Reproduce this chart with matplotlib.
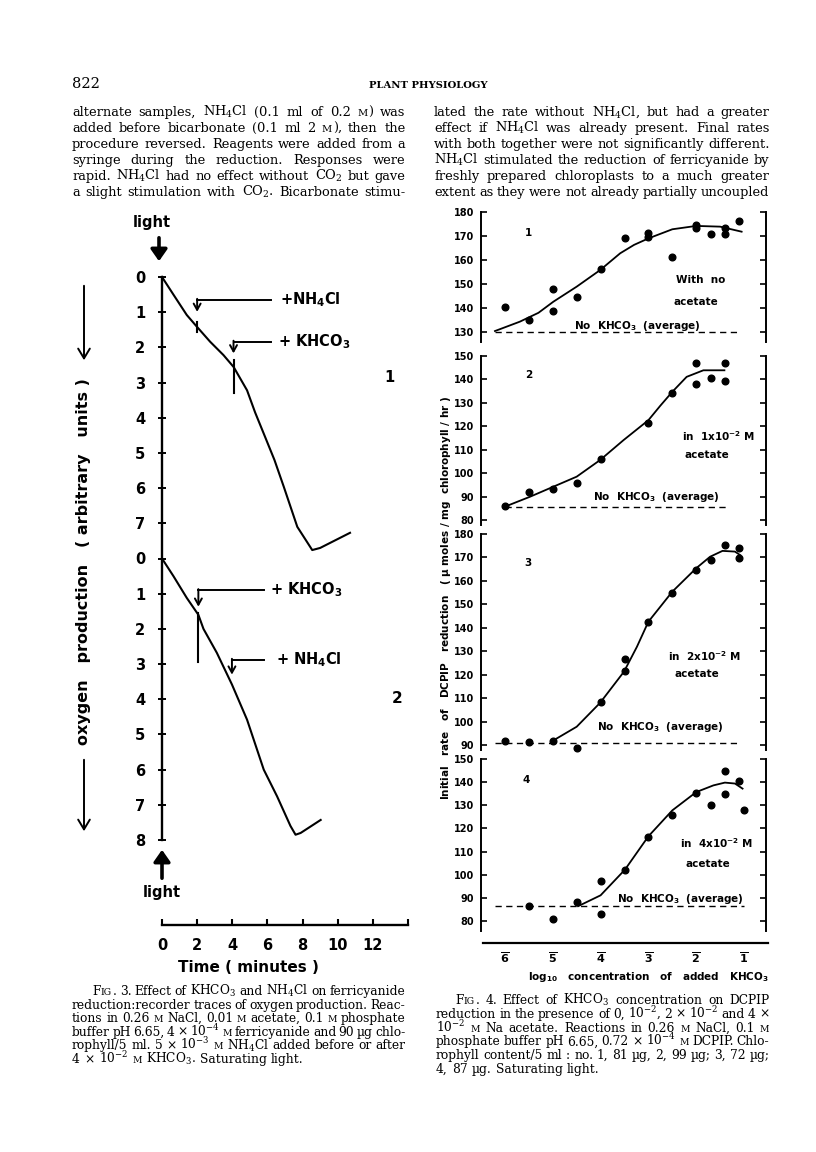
import matplotlib
matplotlib.use("Agg")
import matplotlib.pyplot as plt
from matplotlib.patches import FancyArrowPatch

plt.rcParams['mathtext.fontset'] = 'custom'
plt.rcParams['mathtext.rm'] = 'DejaVu Serif'
plt.rcParams['mathtext.it'] = 'DejaVu Serif:italic'
plt.rcParams['mathtext.bf'] = 'DejaVu Serif:bold'
plt.rcParams['mathtext.sf'] = 'DejaVu Sans:bold'

# ======================= DATA =======================
# ---- Fig. 3: recorder traces (time, min) vs oxygen production (arbitrary units)
trace1_time = [0, 0.65, 1.41, 1.98, 2.74, 3.5, 4.08, 4.84, 5.3, 5.79, 6.4, 6.93, 7.7, 8.55, 9.0, 10.7]
trace1_oxygen = [0, 0.5, 1.08, 1.41, 1.84, 2.22, 2.56, 3.22, 3.85, 4.45, 5.2, 5.96, 7.1, 7.76, 7.7, 7.27]
trace2_time = [0, 0.65, 1.41, 2.07, 2.36, 3.12, 3.98, 4.84, 5.79, 6.55, 7.31, 7.6, 7.89, 9.03]
trace2_oxygen = [0, 0.5, 1.12, 1.6, 2.0, 2.68, 3.58, 4.58, 6.0, 6.76, 7.6, 7.85, 7.8, 7.43]
trace_ticklabels = ['0', '1', '2', '3', '4', '5', '6', '7', '0', '1', '2', '3', '4', '5', '6', '7', '8']
time_ticks = [0, 2, 4, 6, 8, 10, 12, 14]
time_ticklabels = ['0', '2', '4', '6', '8', '10', '12', '']

# reagent additions: trace, label, time added, arrow level, arrow tip, label time, pen-mark extent
event_trace = [1, 1, 2, 2]
event_label = [r'+NH$_{\mathsf{4}}$Cl', r'+ KHCO$_{\mathsf{3}}$', r'+ KHCO$_{\mathsf{3}}$', r'+ NH$_{\mathsf{4}}$Cl']
event_time = [2.0, 4.07, 2.07, 3.98]
event_level = [0.65, 1.84, 0.9, 2.88]
event_tip = [0.99, 2.17, 1.37, 3.3]
event_line_end = [6.2, 6.2, 5.8, 5.8]
event_label_time = [6.74, 6.63, 6.17, 6.46]
event_mark_lo = [1.27, 2.36, 1.55, None]
event_mark_hi = [1.55, 3.3, 2.93, None]

# ---- Fig. 4: log10 [KHCO3] vs initial rate of DCPIP reduction
conc_ticks = [-6, -5, -4, -3, -2, -1]
conc_ticklabels = [r'$\overline{\mathsf{6}}$', r'$\overline{\mathsf{5}}$', r'$\overline{\mathsf{4}}$',
                   r'$\overline{\mathsf{3}}$', r'$\overline{\mathsf{2}}$', r'$\overline{\mathsf{1}}$']

p1_conc = [-6.0, -5.5, -5.0, -5.0, -4.5, -4.0, -3.5, -3.0, -3.0, -2.5, -2.0, -2.0, -1.7, -1.4, -1.4, -1.1]
p1_rate = [140.5, 135.0, 147.9, 138.8, 144.4, 156.1, 169.0, 171.1, 169.5, 161.4, 174.6, 173.5, 170.7, 173.2, 170.7, 176.4]
p1_fit_conc = [-6.21, -5.69, -5.3, -4.99, -4.5, -4.01, -3.59, -3.3, -3.0, -2.5, -2.0, -1.5, -1.05]
p1_fit_rate = [130.4, 134.3, 138.0, 142.6, 148.9, 155.8, 162.8, 166.3, 169.0, 172.8, 174.2, 173.9, 171.8]
p1_base = 130.0
p1_base_span = [-6.2, -1.1]

p2_conc = [-6.0, -5.5, -5.0, -4.5, -4.0, -3.0, -2.5, -2.0, -2.0, -1.7, -1.4, -1.4]
p2_rate = [86.0, 92.1, 93.1, 95.6, 106.1, 121.2, 134.0, 146.8, 138.0, 140.4, 146.8, 139.4]
p2_fit_conc = [-6.0, -5.48, -4.99, -4.5, -4.01, -3.52, -3.0, -2.75, -2.5, -2.2, -1.85, -1.41]
p2_fit_rate = [85.7, 89.9, 94.2, 98.5, 105.6, 114.1, 122.6, 128.8, 134.7, 141.1, 143.9, 143.9]
p2_base = 85.5
p2_base_span = [-6.0, -1.38]

p3_conc = [-6.0, -5.5, -5.0, -4.5, -4.0, -3.5, -3.5, -3.0, -2.5, -2.0, -1.7, -1.4, -1.1, -1.1]
p3_rate = [91.8, 91.4, 91.8, 88.8, 108.5, 121.7, 126.7, 142.6, 155.0, 164.7, 168.9, 175.3, 174.2, 169.7]
p3_fit_conc = [-5.0, -4.5, -4.01, -3.51, -3.24, -3.0, -2.5, -2.0, -1.71, -1.45, -1.19, -1.08]
p3_fit_rate = [91.8, 97.8, 108.0, 121.3, 131.9, 142.6, 155.4, 165.4, 170.3, 172.8, 172.5, 171.0]
p3_base = 91.0
p3_base_span = [-6.2, -1.08]

p4_conc = [-5.5, -5.0, -4.5, -4.0, -4.0, -3.5, -3.0, -2.5, -2.0, -1.7, -1.4, -1.4, -1.1, -1.0]
p4_rate = [86.4, 81.0, 88.2, 97.2, 83.2, 102.2, 116.4, 125.7, 135.3, 130.3, 144.7, 134.8, 140.5, 128.1]
p4_fit_conc = [-4.47, -4.0, -3.49, -3.0, -2.5, -2.0, -1.64, -1.4, -1.19, -1.03]
p4_fit_rate = [86.4, 91.1, 102.2, 116.6, 127.8, 135.7, 138.6, 139.8, 139.4, 137.2]
p4_base = 86.3
p4_base_span = [-6.2, -0.99]

panel_numbers = ['1', '2', '3', '4']
panel_conditions = [['With  no', 'acetate'],
                    [r'in  1x10$^{\mathsf{-2}}$ M', 'acetate'],
                    [r'in  2x10$^{\mathsf{-2}}$ M', 'acetate'],
                    [r'in  4x10$^{\mathsf{-2}}$ M', 'acetate']]
baseline_label = r'No  KHCO$_{\mathsf{3}}$  (average)'

# ---- page text
header_left = '822'
header_center = 'PLANT PHYSIOLOGY'
body_left = [
    "alternate samples, NH$_4$Cl (0.1 ml of 0.2 «M») was",
    "added before bicarbonate (0.1 ml 2 «M»), then the",
    "procedure reversed. Reagents were added from a",
    "syringe during the reduction. Responses were",
    "rapid. NH$_4$Cl had no effect without CO$_2$ but gave",
    "a slight stimulation with CO$_2$. Bicarbonate stimu-",
]
body_right = [
    "lated the rate without NH$_4$Cl, but had a greater",
    "effect if NH$_4$Cl was already present. Final rates",
    "with both together were not significantly different.",
    "NH$_4$Cl stimulated the reduction of ferricyanide by",
    "freshly prepared chloroplasts to a much greater",
    "extent as they were not already partially uncoupled",
]
caption3 = [
    "F«IG». 3. Effect of KHCO$_3$ and NH$_4$Cl on ferricyanide",
    "reduction:recorder traces of oxygen production. Reac-",
    "tions in 0.26 «M» NaCl, 0.01 «M» acetate, 0.1 «M» phosphate",
    "buffer pH 6.65, 4 × 10$^{-4}$ «M» ferricyanide and 90 µg chlo-",
    "rophyll/5 ml. 5 × 10$^{-3}$ «M» NH$_4$Cl added before or after",
    "4 × 10$^{-2}$ «M» KHCO$_3$. Saturating light.",
]
caption4 = [
    "F«IG». 4. Effect of KHCO$_3$ concentration on DCPIP",
    "reduction in the presence of 0, 10$^{-2}$, 2 × 10$^{-2}$ and 4 ×",
    "10$^{-2}$ «M» Na acetate. Reactions in 0.26 «M» NaCl, 0.1 «M»",
    "phosphate buffer pH 6.65, 0.72 × 10$^{-4}$ «M» DCPIP. Chlo-",
    "rophyll content/5 ml : no. 1, 81 µg, 2, 99 µg; 3, 72 µg;",
    "4, 87 µg. Saturating light.",
]

# ======================= LAYOUT =======================
W, H, DPI = 816, 1152, 100
fig = plt.figure(figsize=(W / DPI, H / DPI), dpi=DPI)
fig.patch.set_facecolor('white')
renderer = fig.canvas.get_renderer()
SANS = 'DejaVu Sans'
SERIF = 'DejaVu Serif'


def px_rect(x0, y0, x1, y1):
    return [x0 / W, 1 - y1 / H, (x1 - x0) / W, (y1 - y0) / H]


def fpt(x, y):
    return (x / W, 1 - y / H)


def runs_of(word):
    out, buf, small = [], '', False
    for ch in word:
        if ch in '«»':
            if buf:
                out.append((buf, small))
            buf = ''
            small = (ch == '«')
        else:
            buf += ch
    if buf:
        out.append((buf, small))
    return out


def text_line(x0, x1, ybase, line, size, justify=True, sc=0.76):
    words = line.split()
    groups, widths = [], []
    for w in words:
        arts, ws = [], []
        for s, small in runs_of(w):
            t = fig.text(0, 0, s, fontsize=size * sc if small else size, family=SERIF,
                         ha='left', va='baseline')
            arts.append(t)
            ws.append(t.get_window_extent(renderer).width + 0.06 * size)
        groups.append(arts)
        widths.append(ws)
    total = sum(sum(w) for w in widths)
    if justify and len(words) > 1:
        gap = (x1 - x0 - total) / (len(words) - 1)
    else:
        gap = 0.30 * size * DPI / 72
    x = x0
    for arts, ws in zip(groups, widths):
        for a, wi in zip(arts, ws):
            a.set_position(fpt(x, ybase))
            x += wi
        x += gap


# ---- header and running text
fig.text(*fpt(72, 88), header_left, family=SERIF, fontsize=10.5, ha='left', va='baseline')
fig.text(*fpt(428, 88), header_center, family=SERIF, fontsize=7.2, fontweight='bold',
         ha='center', va='baseline')
for i, line in enumerate(body_left):
    text_line(72, 406, 116 + 16 * i, line, 9.4)
for i, line in enumerate(body_right):
    text_line(434, 770, 116 + 16 * i, line, 9.4)
for i, line in enumerate(caption3):
    text_line(72 + (20 if i == 0 else 0), 406, 995 + 13.6 * i, line, 8.8, justify=(i < len(caption3) - 1))
for i, line in enumerate(caption4):
    text_line(436 + (19 if i == 0 else 0), 770, 1004 + 13.8 * i, line, 8.8, justify=(i < len(caption4) - 1))

# ======================= FIG. 3 =======================
TRACE2_OFFSET = 8
ax3 = fig.add_axes(px_rect(162, 277, 408, 840))
ax3.set_xlim(0, 14)
ax3.set_ylim(16, 0)
ax3.patch.set_visible(False)
for s in ['top', 'right', 'bottom']:
    ax3.spines[s].set_visible(False)
ax3.spines['left'].set_linewidth(1.7)
ax3.set_xticks([])
ax3.set_yticks(range(len(trace_ticklabels)))
ax3.set_yticklabels(trace_ticklabels, fontsize=10.5, fontweight='bold', family=SANS)
ax3.tick_params(axis='y', direction='inout', length=6, width=1.4, pad=9)

ax3.plot(trace1_time, trace1_oxygen, color='black', lw=1.5, clip_on=False, solid_joinstyle='round')
ax3.plot(trace2_time, [v + TRACE2_OFFSET for v in trace2_oxygen], color='black', lw=1.5,
         clip_on=False, solid_joinstyle='round')

for tr, lab, t_add, lev, tip, lend, lt, lo, hi in zip(event_trace, event_label, event_time, event_level,
                                                      event_tip, event_line_end, event_label_time,
                                                      event_mark_lo, event_mark_hi):
    off = 0 if tr == 1 else TRACE2_OFFSET
    ax3.plot([t_add, lend], [lev + off, lev + off], color='black', lw=1.4, clip_on=False)
    ax3.annotate('', xy=(t_add, tip + off), xytext=(t_add, lev + off - 0.03),
                 arrowprops=dict(arrowstyle='->, head_length=0.45, head_width=0.25', lw=1.4,
                                 color='black', shrinkA=0, shrinkB=0), annotation_clip=False)
    if lo is not None:
        ax3.plot([t_add, t_add], [lo + off, hi + off], color='black', lw=1.5, clip_on=False)
    ax3.text(lt, lev + off, lab, fontsize=10.5, fontweight='bold', family=SANS,
             ha='left', va='center', clip_on=False)

ax3.text(12.97, 2.87, '1', fontsize=10.5, fontweight='bold', family=SANS, ha='center', va='center')
ax3.text(13.4, 3.97 + TRACE2_OFFSET, '2', fontsize=11, fontweight='bold', family=SANS, ha='center', va='center')

# time axis
axT = fig.add_axes(px_rect(162, 900, 408, 925))
axT.set_xlim(0, 14)
axT.patch.set_visible(False)
for s in ['top', 'right', 'left']:
    axT.spines[s].set_visible(False)
axT.spines['bottom'].set_linewidth(1.7)
axT.set_yticks([])
axT.set_xticks(time_ticks)
axT.set_xticklabels(time_ticklabels, fontsize=10.5, fontweight='bold', family=SANS)
axT.tick_params(axis='x', direction='in', length=4, width=1.5, pad=9)
fig.text(*fpt(248, 968), 'Time ( minutes )', fontsize=11, fontweight='bold', family=SANS,
         ha='center', va='center')

# light arrows
fig.text(*fpt(152, 222), 'light', fontsize=10.5, fontweight='bold', family=SANS, ha='center', va='center')
fig.add_artist(FancyArrowPatch(fpt(159, 235), fpt(159, 264), transform=fig.transFigure,
                               arrowstyle='-|>, head_length=0.5, head_width=0.35', lw=2.6,
                               mutation_scale=14, color='black'))
fig.add_artist(FancyArrowPatch(fpt(162, 881), fpt(162, 847), transform=fig.transFigure,
                               arrowstyle='-|>, head_length=0.5, head_width=0.35', lw=2.6,
                               mutation_scale=14, color='black'))
fig.text(*fpt(162, 892), 'light', fontsize=10.5, fontweight='bold', family=SANS, ha='center', va='center')

# y label with arrows
fig.text(*fpt(84, 562), 'oxygen   production   ( arbitrary   units )', rotation=90,
         fontsize=11.5, fontweight='bold', family=SANS, ha='center', va='center')
for y0, y1 in [(283, 363), (757, 834)]:
    fig.add_artist(FancyArrowPatch(fpt(84, y0), fpt(84, y1), transform=fig.transFigure,
                                   arrowstyle='->, head_length=0.5, head_width=0.3', lw=1.4,
                                   mutation_scale=14, color='black'))

# ======================= FIG. 4 =======================
def px_to_conc(px):
    return (px - 505) / 47.8 - 6


panel_px = [(212, 342, 180, 130, 332), (356, 525, 150, 80, 520),
            (534, 750, 180, 90, 745), (759, 931, 150, 80, 921)]
panel_conc = [p1_conc, p2_conc, p3_conc, p4_conc]
panel_rate = [p1_rate, p2_rate, p3_rate, p4_rate]
panel_fit_conc = [p1_fit_conc, p2_fit_conc, p3_fit_conc, p4_fit_conc]
panel_fit_rate = [p1_fit_rate, p2_fit_rate, p3_fit_rate, p4_fit_rate]
panel_base = [p1_base, p2_base, p3_base, p4_base]
panel_base_span = [p1_base_span, p2_base_span, p3_base_span, p4_base_span]
panel_text_pos = [  # number, condition line 1, condition line 2, baseline label
    [(-5.52, 171.2), (-1.91, 151.7), (-2.01, 142.4), (-3.23, 132.4)],
    [(-5.51, 141.8), (-1.54, 115.8), (-1.78, 107.7), (-2.83, 90.0)],
    [(-5.53, 167.8), (-1.82, 127.7), (-1.99, 120.1), (-2.74, 97.8)],
    [(-5.56, 141.1), (-1.57, 113.4), (-1.75, 104.8), (-2.34, 89.6)],
]

for k, (top, bot, vtop, vref, yref) in enumerate(panel_px):
    scale = (yref - top) / (vtop - vref)
    vbot = vtop - (bot - top) / scale
    ax = fig.add_axes(px_rect(481, top, 766, bot))
    ax.set_xlim(px_to_conc(481), px_to_conc(766))
    ax.set_ylim(vbot, vtop)
    ax.patch.set_visible(False)
    ax.spines['top'].set_visible(False)
    ax.spines['bottom'].set_visible(False)
    ax.spines['left'].set_linewidth(1.4)
    ax.spines['right'].set_linewidth(1.4)
    ax.set_xticks([])
    ticks = list(range(int(vref), int(vtop) + 1, 10))
    ax.set_yticks(ticks)
    ax.set_yticklabels([str(t) for t in ticks], fontsize=7, fontweight='bold', family=SANS)
    ax.tick_params(axis='y', direction='in', length=4, width=1.2, pad=5, right=True)
    ax.plot(panel_base_span[k], [panel_base[k]] * 2, color='black', lw=1.0,
            linestyle=(0, (4.5, 3.2)), clip_on=False)
    ax.plot(panel_fit_conc[k], panel_fit_rate[k], color='black', lw=1.3, clip_on=False,
            solid_joinstyle='round')
    ax.plot(panel_conc[k], panel_rate[k], 'o', color='black', ms=4.8, clip_on=False)
    pos = panel_text_pos[k]
    ax.text(*pos[0], panel_numbers[k], fontsize=7.5, fontweight='bold', family=SANS, ha='center', va='center')
    ax.text(*pos[1], panel_conditions[k][0], fontsize=7.5, fontweight='bold', family=SANS, ha='center', va='center')
    ax.text(*pos[2], panel_conditions[k][1], fontsize=7.5, fontweight='bold', family=SANS, ha='center', va='center')
    ax.text(*pos[3], baseline_label, fontsize=7.5, fontweight='bold', family=SANS, ha='center', va='center')

axX = fig.add_axes(px_rect(483, 925, 768, 943))
axX.set_xlim(px_to_conc(483), px_to_conc(768))
axX.patch.set_visible(False)
for s in ['top', 'right', 'left']:
    axX.spines[s].set_visible(False)
axX.spines['bottom'].set_linewidth(1.6)
axX.set_yticks([])
axX.set_xticks(conc_ticks)
axX.set_xticklabels(conc_ticklabels, fontsize=8)
axX.tick_params(axis='x', direction='in', length=0, pad=5)
fig.text(*fpt(648, 977), r'log$_{\mathsf{10}}$   concentration   of   added   KHCO$_{\mathsf{3}}$',
         fontsize=7.5, fontweight='bold', family=SANS, ha='center', va='center')
fig.text(*fpt(446, 598),
         r'Initial   rate   of   DCPIP   reduction   ( $\mathsf{\mu}$ moles / mg  chlorophyll / hr )',
         rotation=90, fontsize=7.5, fontweight='bold', family=SANS, ha='center', va='center')

fig.savefig('out.png', dpi=DPI, facecolor='white')
